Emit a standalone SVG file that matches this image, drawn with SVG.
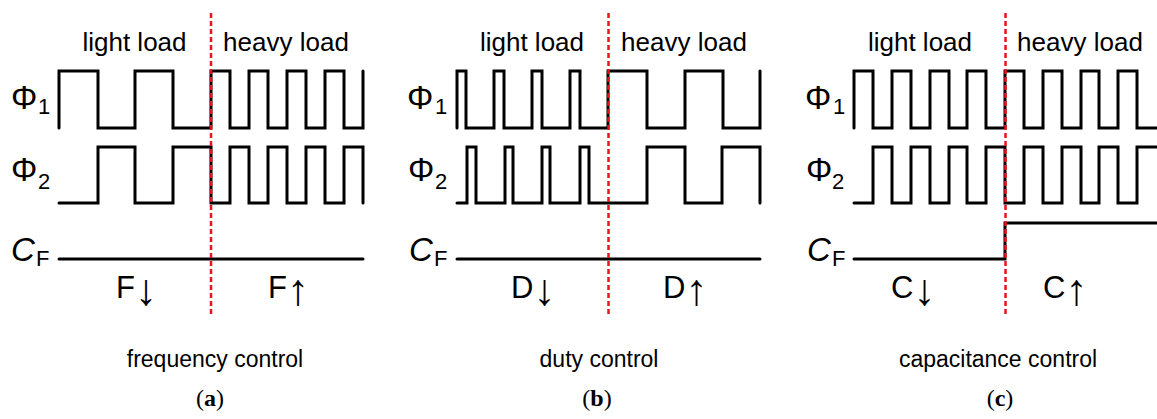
<svg xmlns="http://www.w3.org/2000/svg" width="1157" height="419" viewBox="0 0 1157 419">
<style>
.w{fill:none;stroke:#000;stroke-width:3;stroke-linejoin:miter;stroke-linecap:round}
.d{fill:none;stroke:#e8141b;stroke-width:2.5;stroke-dasharray:5,3}
.t{font-family:"Liberation Sans",Arial,sans-serif;fill:#000}
.lab{font-size:26px;text-anchor:middle}
.big{font-size:31px}
.ar{font-size:44px}
.ph{font-size:33px}
.sub{font-size:22px}
.cap{font-size:23px;text-anchor:middle}
.fig{font-family:"Liberation Serif","Times New Roman",serif;font-size:24px;text-anchor:middle;fill:#000}
</style>
<rect width="1157" height="419" fill="#fff"/>
<g id="panel-a">
<text class="t lab" x="134.5" y="51">light load</text>
<text class="t lab" x="286" y="51">heavy load</text>
<text class="t ph" x="11" y="109">Φ<tspan class="sub" x="38" y="114">1</tspan></text>
<text class="t ph" x="11" y="181">Φ<tspan class="sub" x="38" y="189">2</tspan></text>
<text class="t ph" x="11" y="261" font-style="italic">C<tspan class="sub" font-style="normal" x="36" y="266">F</tspan></text>
<text class="t big" x="116" y="298">F<tspan class="ar" dy="7">↓</tspan></text>
<text class="t big" x="268" y="298">F<tspan class="ar" dy="7">↑</tspan></text>
<text class="t cap" x="215" y="367">frequency control</text>
<text class="fig" x="210" y="406">(<tspan font-weight="bold">a</tspan>)</text>
</g>
<g id="panel-b">
<text class="t lab" x="532" y="51">light load</text>
<text class="t lab" x="684" y="51">heavy load</text>
<text class="t ph" x="407" y="109">Φ<tspan class="sub" x="435" y="114">1</tspan></text>
<text class="t ph" x="408" y="181">Φ<tspan class="sub" x="435" y="189">2</tspan></text>
<text class="t ph" x="409" y="261" font-style="italic">C<tspan class="sub" font-style="normal" x="434" y="266">F</tspan></text>
<text class="t big" x="511" y="298">D<tspan class="ar" dy="7">↓</tspan></text>
<text class="t big" x="663" y="298">D<tspan class="ar" dy="7">↑</tspan></text>
<text class="t cap" x="599" y="367">duty control</text>
<text class="fig" x="597" y="406">(<tspan font-weight="bold">b</tspan>)</text>
</g>
<g id="panel-c">
<text class="t lab" x="920" y="51">light load</text>
<text class="t lab" x="1080" y="51">heavy load</text>
<text class="t ph" x="805" y="109">Φ<tspan class="sub" x="833" y="114">1</tspan></text>
<text class="t ph" x="806" y="181">Φ<tspan class="sub" x="832" y="189">2</tspan></text>
<text class="t ph" x="807" y="261" font-style="italic">C<tspan class="sub" font-style="normal" x="832" y="266">F</tspan></text>
<text class="t big" x="891" y="298">C<tspan class="ar" dy="7">↓</tspan></text>
<text class="t big" x="1043" y="298">C<tspan class="ar" dy="7">↑</tspan></text>
<text class="t cap" x="998" y="367">capacitance control</text>
<text class="fig" x="1000" y="406">(<tspan font-weight="bold">c</tspan>)</text>
</g>
<g id="connectors">
<path class="w" d="M59,128 V71 H98 V128 H135 V71 H173 V128 H211 V71 H230 V128 H249 V71 H268 V128 H287 V71 H306 V128 H325 V71 H344 V128 H363 V71"/>
<path class="w" d="M59,203 H98 V147 H135 V203 H173 V147 H211 V203 H230 V147 H249 V203 H268 V147 H287 V203 H306 V147 H325 V203 H344 V147 H363 V203"/>
<path class="w" d="M59,259 H363"/>
<path class="w" d="M457,128 V71 H466 V128 H494 V71 H504 V128 H532 V71 H542 V128 H570 V71 H580 V128 H608 V71 H647 V128 H685 V71 H723 V128 H760 V71"/>
<path class="w" d="M457,203 H467 V147 H476 V203 H505 V147 H513 V203 H542 V147 H550 V203 H580 V147 H589 V203 H647 V147 H685 V203 H722 V147 H760 V203"/>
<path class="w" d="M457,259 H760"/>
<path class="w" d="M854,128 V71 H873 V128 H892 V71 H911 V128 H930 V71 H949 V128 H967 V71 H986 V128 H1005 V71 H1024 V128 H1043 V71 H1062 V128 H1081 V71 H1099 V128 H1118 V71 H1137 V128 H1160"/>
<path class="w" d="M854,203 H873 V147 H892 V203 H911 V147 H930 V203 H949 V147 H967 V203 H986 V147 H1005 V203 H1024 V147 H1043 V203 H1062 V147 H1081 V203 H1099 V147 H1118 V203 H1137 V147 H1160"/>
<path class="w" d="M854,259 H1005 V223 H1160"/>
<path class="d" d="M211,13 V317"/>
<path class="d" d="M608.5,13 V317"/>
<path class="d" d="M1005.5,13 V317"/>
</g>
</svg>
